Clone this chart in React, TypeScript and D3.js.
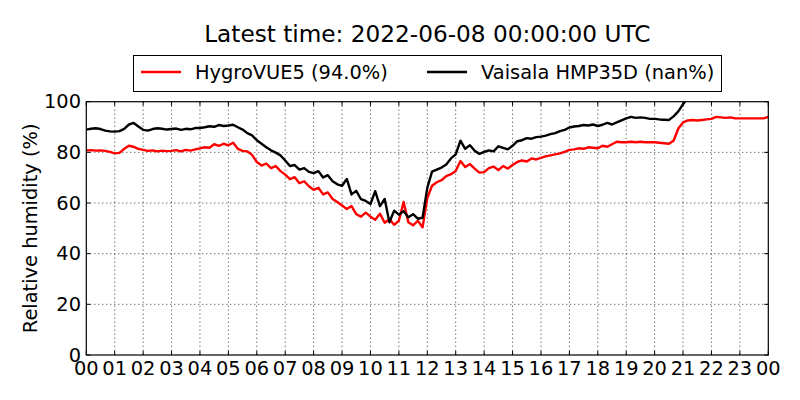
import * as d3 from 'd3';

// 10-minute samples, starting 2022-06-07 00:00 UTC
const hygroVue = [
  80.8, 80.9, 80.7, 80.8, 80.6, 80.2,
  79.6, 79.8, 81.4, 82.6, 82.2, 81.4,
  81.0, 80.6, 80.8, 80.4, 80.7, 80.5,
  80.6, 80.9, 80.4, 81.0, 80.7, 81.2,
  81.6, 82.0, 81.8, 83.2, 82.6, 83.4,
  82.8, 83.8, 81.4, 80.6, 80.4, 79.0,
  76.2, 74.8, 75.6, 73.8, 74.6, 72.6,
  71.2, 69.4, 70.2, 67.8, 68.6, 66.6,
  65.2, 66.0, 63.4, 64.2, 61.6, 60.4,
  59.0, 57.6, 58.8, 55.6, 54.6, 56.2,
  54.6, 53.4, 55.8, 52.2, 53.6, 51.4,
  53.0, 60.4, 52.4, 51.2, 53.0, 50.4,
  62.0, 66.8, 68.2, 69.0, 70.6, 71.4,
  72.6, 76.6, 74.2, 75.4, 73.6, 72.0,
  72.2, 73.8, 74.4, 73.0, 74.6, 73.6,
  75.0, 76.2, 76.8, 76.4, 77.6, 77.2,
  77.8, 78.4, 78.8, 79.2, 79.6, 80.2,
  81.0, 81.2, 81.6, 81.4, 82.0, 81.8,
  81.6, 82.6, 82.2, 83.2, 84.2, 84.0,
  84.0, 84.2, 84.0, 84.2, 84.0, 84.0,
  84.0, 83.8, 83.6, 83.4, 84.6, 89.4,
  91.8, 92.6, 92.8, 92.6, 92.8, 93.0,
  93.2, 94.0, 93.8, 93.6, 93.8, 93.4,
  93.4, 93.4, 93.4, 93.4, 93.4, 93.4,
  94.0,
];

const vaisala = [
  89.0, 89.3, 89.5, 89.2, 88.6, 88.3,
  88.2, 88.4, 89.3, 91.0, 91.6, 90.2,
  88.9, 88.6, 89.2, 89.5, 89.3, 89.0,
  89.2, 89.4, 88.9, 89.3, 89.1, 89.6,
  89.6, 89.9, 90.3, 90.1, 90.8, 90.4,
  90.6, 90.9, 89.9, 89.0, 87.6, 86.7,
  84.8, 83.4, 82.0, 80.8, 79.9, 78.8,
  76.8, 74.6, 75.0, 73.2, 73.8, 72.3,
  71.8, 72.6, 70.1, 71.0, 68.6, 67.4,
  66.8, 69.5, 63.4, 64.8, 61.5, 60.8,
  59.6, 64.7, 58.8, 61.6, 52.4, 57.0,
  55.4, 56.8, 54.4, 55.6, 53.8, 54.2,
  66.0, 72.4, 73.2, 74.0, 75.2, 77.6,
  79.2, 84.6, 81.4, 82.8, 80.6, 79.4,
  80.2, 80.8, 80.4, 82.4, 81.8, 81.2,
  82.6, 84.4, 84.8, 85.6, 85.4, 86.0,
  86.2, 86.6, 87.2, 87.6, 88.4, 88.9,
  89.8, 90.2, 90.4, 90.8, 90.6, 91.0,
  90.4, 90.9, 91.6, 91.0, 91.8, 92.6,
  93.4, 94.0, 93.6, 93.8, 93.6, 93.2,
  93.2, 93.0, 92.9, 92.8, 94.2, 96.2,
  99.0, 101.6, 104.0,
];

const series = [
  { name: 'HygroVUE5 (94.0%)', values: hygroVue, color: '#ff0000' },
  { name: 'Vaisala HMP35D (nan%)', values: vaisala, color: '#000000' },
];

const hourTicks = d3.range(0, 25);
const rhTicks = [0, 20, 40, 60, 80, 100];

const font = 'DejaVu Sans, sans-serif';

export default function App() {
  const width = 800;
  const height = 400;
  const left = 86.3;
  const right = 768.3;
  const top = 101.7;
  const bottom = 355;

  const x = d3.scaleLinear().domain([0, 24]).range([left, right]);
  const y = d3.scaleLinear().domain([0, 100]).range([bottom, top]);

  const line = d3
    .line<number>()
    .x((_, i) => x(i / 6))
    .y((d) => y(d));

  return (
    <svg
      width={width}
      height={height}
      style={{ position: 'absolute', left: 0, top: 0, background: '#fff' }}
      fontFamily={font}
    >
      <defs>
        <clipPath id='plot'>
          <rect x={left} y={top} width={right - left} height={bottom - top} />
        </clipPath>
      </defs>

      <text x={(left + right) / 2} y={42} textAnchor='middle' fontSize={23.2}>
        Latest time: 2022-06-08 00:00:00 UTC
      </text>

      {/* grid */}
      {hourTicks.slice(1, -1).map((h) => (
        <line key={'gx' + h} x1={x(h)} x2={x(h)} y1={top} y2={bottom} stroke='#000' strokeWidth={0.8} strokeDasharray='1,3' />
      ))}
      {rhTicks.slice(1, -1).map((v) => (
        <line key={'gy' + v} x1={left} x2={right} y1={y(v)} y2={y(v)} stroke='#000' strokeWidth={0.8} strokeDasharray='1,3' />
      ))}

      {/* data */}
      <g clipPath='url(#plot)'>
        {series.map((s) => (
          <path
            key={s.name}
            d={line(s.values) ?? ''}
            fill='none'
            stroke={s.color}
            strokeWidth={2.4}
            strokeLinejoin='round'
          />
        ))}
      </g>

      {/* ticks, inward */}
      {hourTicks.map((h) => (
        <g key={'tx' + h}>
          <line x1={x(h)} x2={x(h)} y1={bottom} y2={bottom - 4} stroke='#000' />
          <line x1={x(h)} x2={x(h)} y1={top} y2={top + 4} stroke='#000' />
          <text x={x(h)} y={375} textAnchor='middle' fontSize={19.4}>
            {String(h % 24).padStart(2, '0')}
          </text>
        </g>
      ))}
      {rhTicks.map((v) => (
        <g key={'ty' + v}>
          <line x1={left} x2={left + 4} y1={y(v)} y2={y(v)} stroke='#000' />
          <line x1={right} x2={right - 4} y1={y(v)} y2={y(v)} stroke='#000' />
          <text x={81} y={y(v) + 6.5} textAnchor='end' fontSize={19.4}>
            {v}
          </text>
        </g>
      ))}

      <rect x={left} y={top} width={right - left} height={bottom - top} fill='none' stroke='#000' strokeWidth={1.2} />

      <text
        transform={`translate(37,${(top + bottom) / 2}) rotate(-90)`}
        textAnchor='middle'
        fontSize={19.4}
      >
        Relative humidity (%)
      </text>

      {/* legend */}
      <rect x={133.5} y={55.5} width={588} height={36} fill='#fff' stroke='#000' strokeWidth={1} />
      {series.map((s, i) => {
        const lx = i === 0 ? 141 : 427;
        return (
          <g key={'lg' + s.name}>
            <line x1={lx} x2={lx + 40} y1={72} y2={72} stroke={s.color} strokeWidth={2.5} />
            <text x={lx + 54} y={79} fontSize={19.4}>
              {s.name}
            </text>
          </g>
        );
      })}
    </svg>
  );
}
